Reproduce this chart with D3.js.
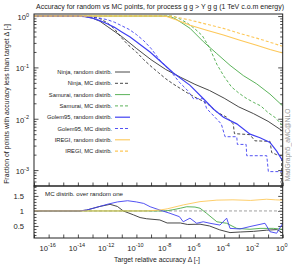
<!DOCTYPE html>
<html>
<head>
<meta charset="utf-8">
<script src="https://cdn.jsdelivr.net/npm/d3@7/dist/d3.min.js"></script>
<style>
  body { margin: 0; background: #fff; }
  text { font-family: "Liberation Sans", Arial, sans-serif; fill: #222; }
</style>
</head>
<body>
<svg></svg>
<script>
var width = 292;
var height = 265;

// curves: [log10 of target accuracy, log10 of fraction]
var ninjaRandom = [[-17,0],[-14,0],[-13.5,-0.01],[-13,-0.04],[-12.5,-0.1],[-12,-0.2],[-11,-0.4],[-10,-0.63],[-9,-0.85],
  [-8,-1.04],[-7,-1.19],[-6,-1.33],[-5,-1.45],[-4,-1.6],[-3,-1.77],[-2,-1.9],[-1,-2.05],[0,-2.24]];
var ninjaMC = [[-17,0],[-14,0],[-13.5,-0.005],[-13,-0.02],[-12.5,-0.05],[-12,-0.13],[-11.5,-0.25],[-11,-0.43],[-10.5,-0.58],
  [-10,-0.7],[-9.5,-0.85],[-9,-0.98],[-8.5,-1.1],[-8,-1.22],[-7.5,-1.32],[-7,-1.41],[-6.5,-1.5],[-6,-1.58],[-5.5,-1.65],
  [-5,-1.74],[-4.5,-1.87],[-3.83,-1.97],[-3.38,-2.1],[-3.3,-2.29],[-2.24,-2.31],[-1.9,-2.43],[-0.87,-2.44],[-0.75,-2.66],
  [-0.41,-2.7],[-0.07,-2.72],[-0.07,-4]];
var samuraiRandom = [[-17,0],[-8,0],[-7.7,-0.01],[-7.36,-0.05],[-7.02,-0.11],[-6.33,-0.24],[-5.42,-0.5],[-4.51,-0.73],
  [-3.6,-0.96],[-2.69,-1.16],[-1.78,-1.32],[-0.87,-1.52],[0,-1.75]];
var samuraiMC = [[-17,0],[-7.5,0],[-7,-0.06],[-6.5,-0.14],[-6,-0.25],[-5.5,-0.38],[-5,-0.62],[-4.5,-0.94],[-4,-1.18],
  [-3.5,-1.38],[-3,-1.5],[-2.5,-1.6],[-2,-1.68],[-1.5,-1.75],[-1,-1.88],[-0.5,-1.98],[0,-2.14]];
var golemRandom = [[-17,0],[-14,0],[-13.5,-0.01],[-13,-0.04],[-12.5,-0.09],[-12,-0.15],[-11.5,-0.22],[-11,-0.31],
  [-10.43,-0.41],[-10,-0.5],[-9.07,-0.7],[-8.4,-0.87],[-7.47,-1.11],[-6.33,-1.35],[-5.42,-1.61],[-4.74,-1.81],
  [-4.05,-1.97],[-3.14,-2.1],[-2.23,-2.3],[-1.55,-2.37],[-0.87,-2.46],[-0.41,-2.63],[0,-2.82]];
var golemMC = [[-17,0],[-14,0],[-13.5,-0.005],[-13,-0.015],[-12.5,-0.04],[-12,-0.07],[-11.5,-0.12],[-11,-0.19],
  [-10.5,-0.26],[-10,-0.36],[-9.5,-0.48],[-9,-0.63],[-8.4,-0.86],[-7.7,-1.06],[-7.06,-1.29],[-6.5,-1.45],[-6.1,-1.61],
  [-5.42,-1.61],[-5.2,-1.8],[-4.7,-1.95],[-4.2,-2.1],[-3.94,-2.35],[-3.14,-2.35],[-3.1,-2.5],[-2.5,-2.5],[-2.46,-2.72],
  [-1.09,-2.72],[-0.98,-3.03],[0,-3.03]];
var iregiRandom = [[-17,0],[-8.3,0],[-7.93,-0.01],[-7.24,-0.078],[-6.33,-0.18],[-5.19,-0.275],[-4.05,-0.37],
  [-2.92,-0.47],[-1.78,-0.57],[-0.87,-0.65],[0,-0.72]];
var iregiMC = [[-17,0],[-7.8,0],[-7.47,-0.01],[-6.33,-0.078],[-5.19,-0.16],[-4.05,-0.24],[-2.92,-0.34],
  [-1.78,-0.43],[-0.87,-0.51],[0,-0.59]];

// ratio panel: [log10 of target accuracy, MC / random]
var ratioNinja = [[-17,1],[-13.9,1],[-13.4,1.03],[-12.5,1.15],[-11.8,1.22],[-11.3,1.15],[-10.9,1.0],[-10.2,0.87],
  [-9.75,0.78],[-9.3,0.74],[-8.4,0.7],[-7.9,0.6],[-7.0,0.6],[-6.5,0.55],[-5.65,0.56],[-5,0.5],[-4.3,0.37],
  [-3.6,0.28],[-2.9,0.3],[-2,0.32],[-1.1,0.36],[-0.4,0.38],[-0.1,0.3],[0,0.25]];
var ratioSamurai = [[-17,1],[-8,1],[-7.5,1.04],[-7,1.09],[-6.56,1.14],[-6,1.13],[-5.65,1.09],[-5.2,0.92],[-4.5,0.64],
  [-3.83,0.59],[-3.14,0.42],[-2.24,0.39],[-1.55,0.42],[-0.64,0.42],[0,0.39]];
var ratioGolem = [[-17,1],[-13.9,1],[-13.4,1.03],[-12.5,1.15],[-12,1.22],[-11.3,1.3],[-10.6,1.34],[-10,1.3],[-9.5,1.25],
  [-9.06,1.14],[-8.4,1.03],[-7.7,0.92],[-7.06,0.81],[-6.8,0.64],[-6.34,0.76],[-5.88,0.59],[-5.43,0.64],[-4.97,0.59],
  [-4.29,0.53],[-3.83,0.76],[-3.6,0.42],[-2.92,0.4],[-2.24,0.48],[-1.21,0.59],[-0.87,0.31],[-0.41,0.26],[0,0.59]];
var ratioIregi = [[-17,1],[-9.3,1],[-8.4,1.03],[-7.9,1.07],[-6.8,1.2],[-5.65,1.31],[-4.5,1.36],[-3.4,1.37],
  [-2.2,1.35],[-1.1,1.39],[-0.5,1.37],[0,1.36]];

var legendLabels = ['Ninja, random distrib.', 'Ninja, MC distrib.', 'Samurai, random distrib.', 'Samurai, MC distrib.',
  'Golem95, random distrib.', 'Golem95, MC distrib.', 'IREGI, random distrib.', 'IREGI, MC distrib.'];
var xLabelExps = [-16, -14, -12, -10, -8, -6, -4, -2, 0];
var yLabelExps = [0, -1, -2, -3];
var ratioLabels = [0.5, 1, 1.5];

var colors = { ninja: '#333333', samurai: '#4aaa48', golem: '#4040f2', iregi: '#fdc85a' };
var series = [
  { data: ninjaRandom, color: colors.ninja, dash: null, w: 0.9 },
  { data: ninjaMC, color: colors.ninja, dash: '3,2', w: 0.9 },
  { data: samuraiRandom, color: colors.samurai, dash: null, w: 0.9 },
  { data: samuraiMC, color: colors.samurai, dash: '3,2', w: 0.9 },
  { data: golemRandom, color: colors.golem, dash: null, w: 1.2 },
  { data: golemMC, color: colors.golem, dash: '3,2', w: 0.9 },
  { data: iregiRandom, color: colors.iregi, dash: null, w: 1.1 },
  { data: iregiMC, color: colors.iregi, dash: '3,2', w: 1.1 }
];
var ratios = [
  { data: ratioNinja, color: colors.ninja },
  { data: ratioSamurai, color: colors.samurai },
  { data: ratioGolem, color: colors.golem },
  { data: ratioIregi, color: colors.iregi }
];

var left = 34, right = 282.7, plotTop = 14, mid = 186, bottom = 238;

var svg = d3.select('svg')
  .attr('width', width)
  .attr('height', height);

var x = d3.scaleLog().domain([1e-17, 1]).range([left, right]);
var y = d3.scaleLog().domain([Math.pow(10, -3.31), Math.pow(10, 0.04)]).range([mid, plotTop]);
var yr = d3.scaleLinear().domain([0.1, 1.83]).range([bottom, mid]);

svg.append('clipPath').attr('id', 'clipMain')
  .append('rect').attr('x', left).attr('y', plotTop).attr('width', right - left).attr('height', mid - plotTop);
svg.append('clipPath').attr('id', 'clipRatio')
  .append('rect').attr('x', left).attr('y', mid).attr('width', right - left).attr('height', bottom - mid);

var line = d3.line()
  .x(d => x(Math.pow(10, d[0])))
  .y(d => y(Math.pow(10, d[1])));
var ratioLine = d3.line()
  .x(d => x(Math.pow(10, d[0])))
  .y(d => yr(d[1]));

// ticks
var decades = d3.range(-17, 1).map(e => Math.pow(10, e));
var minorY = [];
d3.range(-4, 1).forEach(e => { for (var k = 2; k < 10; k++) minorY.push(k * Math.pow(10, e)); });
minorY = minorY.filter(v => v > y.domain()[0] && v < y.domain()[1]);

function tickGroup(axis, tx, ty) {
  var g = svg.append('g').attr('transform', `translate(${tx},${ty})`).call(axis);
  g.select('.domain').remove();
  g.selectAll('.tick line').attr('stroke', '#222').attr('stroke-width', 0.8);
  g.selectAll('.tick text').remove();
  return g;
}

tickGroup(d3.axisBottom(x).tickValues(decades).tickSize(-3.5), 0, mid);
tickGroup(d3.axisBottom(x).tickValues(decades).tickSize(-3.5), 0, bottom);
tickGroup(d3.axisLeft(y).tickValues(yLabelExps.map(e => Math.pow(10, e))).tickSize(-4.5), left, 0);
tickGroup(d3.axisRight(y).tickValues(yLabelExps.map(e => Math.pow(10, e))).tickSize(-4.5), right, 0);
tickGroup(d3.axisLeft(y).tickValues(minorY).tickSize(-2.5), left, 0);
tickGroup(d3.axisRight(y).tickValues(minorY).tickSize(-2.5), right, 0);
tickGroup(d3.axisLeft(yr).tickValues(ratioLabels).tickSize(-4.5), left, 0);
tickGroup(d3.axisRight(yr).tickValues(ratioLabels).tickSize(-4.5), right, 0);
var minorR = d3.range(2, 19).map(v => v / 10).filter(v => ratioLabels.indexOf(v) < 0);
tickGroup(d3.axisLeft(yr).tickValues(minorR).tickSize(-2.5), left, 0);
tickGroup(d3.axisRight(yr).tickValues(minorR).tickSize(-2.5), right, 0);

// reference line at 1 in ratio panel
svg.append('line')
  .attr('x1', left).attr('x2', right)
  .attr('y1', yr(1)).attr('y2', yr(1))
  .attr('stroke', '#a0a0a0').attr('stroke-width', 1).attr('stroke-dasharray', '3,2');

// curves
svg.append('g').attr('clip-path', 'url(#clipMain)')
  .selectAll('path')
  .data(series)
  .enter()
  .append('path')
    .attr('d', d => line(d.data))
    .attr('fill', 'none')
    .attr('stroke', d => d.color)
    .attr('stroke-width', d => d.w)
    .attr('stroke-dasharray', d => d.dash);

svg.append('g').attr('clip-path', 'url(#clipRatio)')
  .selectAll('path')
  .data(ratios)
  .enter()
  .append('path')
    .attr('d', d => ratioLine(d.data))
    .attr('fill', 'none')
    .attr('stroke', d => d.color)
    .attr('stroke-width', 0.9);

// frames
svg.append('rect').attr('x', left).attr('y', plotTop).attr('width', right - left).attr('height', mid - plotTop)
  .attr('fill', 'none').attr('stroke', '#222').attr('stroke-width', 1);
svg.append('rect').attr('x', left).attr('y', mid).attr('width', right - left).attr('height', bottom - mid)
  .attr('fill', 'none').attr('stroke', '#222').attr('stroke-width', 1);

// tick labels
function powLabel(sel, e) {
  sel.append('tspan').text('10');
  sel.append('tspan').attr('dy', -3.3).attr('font-size', '5.5px').text(e);
}
xLabelExps.forEach(e => {
  var t = svg.append('text')
    .attr('x', x(Math.pow(10, e)) - 1)
    .attr('y', 250.5)
    .attr('text-anchor', 'middle')
    .attr('font-size', '7.6px');
  powLabel(t, e);
});
yLabelExps.forEach(e => {
  var t = svg.append('text')
    .attr('x', 29)
    .attr('y', y(Math.pow(10, e)) + 3.8)
    .attr('text-anchor', 'end')
    .attr('font-size', '7.6px');
  powLabel(t, e);
});
ratioLabels.forEach(v => {
  svg.append('text')
    .attr('x', 24)
    .attr('y', yr(v) + 2.7)
    .attr('text-anchor', 'end')
    .attr('font-size', '7.6px')
    .text(v);
});

// legend
var legend = svg.append('g');
series.forEach((s, i) => {
  var ly = 72 + i * 11.3;
  legend.append('text')
    .attr('x', 112)
    .attr('y', ly + 2)
    .attr('text-anchor', 'end')
    .attr('font-size', '5.8px')
    .text(legendLabels[i]);
  legend.append('line')
    .attr('x1', 115).attr('x2', 130)
    .attr('y1', ly).attr('y2', ly)
    .attr('stroke', s.color)
    .attr('stroke-width', s.w)
    .attr('stroke-dasharray', s.dash);
});

// titles and labels
svg.append('text')
  .attr('x', 160).attr('y', 8.5)
  .attr('text-anchor', 'middle')
  .attr('font-size', '7px')
  .text('Accuracy for random vs MC points, for process g g > Y g g (1 TeV c.o.m energy)');
svg.append('text')
  .attr('x', 157).attr('y', 261.5)
  .attr('text-anchor', 'middle')
  .attr('font-size', '6.8px')
  .text('Target relative accuracy Δ [-]');
svg.append('text')
  .attr('transform', 'translate(9,104) rotate(-90)')
  .attr('text-anchor', 'middle')
  .attr('font-size', '6.9px')
  .text('Fraction of points with accuracy less than target Δ [-]');
svg.append('text')
  .attr('transform', 'translate(290,145) rotate(-90)')
  .attr('text-anchor', 'middle')
  .attr('font-size', '6.6px')
  .style('fill', '#999')
  .text('MadGraph5_aMC@NLO');
svg.append('text')
  .attr('x', 45).attr('y', 196)
  .attr('font-size', '6.2px')
  .text('MC distrib. over random one');
</script>
</body>
</html>
